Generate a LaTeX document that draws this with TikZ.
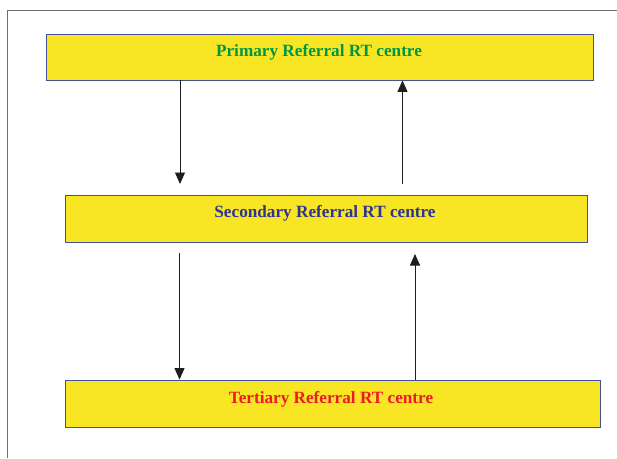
\documentclass[tikz,border=0pt]{standalone}
\usepackage{fontspec}
\setmainfont{Liberation Serif}
\usetikzlibrary{arrows.meta}
\definecolor{boxfill}{RGB}{248,230,36}
\definecolor{boxline}{RGB}{70,78,160}
\definecolor{tgreen}{RGB}{0,150,70}
\definecolor{tblue}{RGB}{46,52,146}
\definecolor{tred}{RGB}{237,28,36}
\definecolor{framegray}{RGB}{110,110,110}
\tikzset{
  refbox/.style={draw=boxline, fill=boxfill, line width=0.9pt, inner sep=0pt, rectangle},
  reftext/.style={font=\bfseries\fontsize{17.2}{19}\selectfont, anchor=base, inner sep=0pt},
  arr/.style={draw={rgb,255:red,30;green,30;blue,30}, line width=0.9pt, -{Triangle[length=11.5pt,width=10pt]}},
  framelinestyle/.style={draw=framegray, line width=1.3pt}
}
\begin{document}
\begin{tikzpicture}[x=1pt,y=-1pt]
\useasboundingbox (0,0) rectangle (617,458);
% frame
\coordinate (fc) at (7.5,10.5);
\coordinate (fr) at (617,10.5);
\coordinate (fb) at (7.5,458);
\draw[framelinestyle] (fb) -- (fc) -- (fr);
% boxes
\node[refbox, minimum width=547pt, minimum height=46pt] (b1) at (319.5,57) {};
\node[refbox, minimum width=522pt, minimum height=47pt] (b2) at (326,218.5) {};
\node[refbox, minimum width=535pt, minimum height=47pt] (b3) at (332.5,403.5) {};
% texts
\node[reftext, text=tgreen] (t1) at (319,56) {Primary Referral RT centre};
\node[reftext, text=tblue] (t2) at (325,217.5) {Secondary Referral RT centre};
\node[reftext, text=tred] (t3) at (331,403) {Tertiary Referral RT centre};
% arrow ends
\coordinate (d1) at (180,184);
\coordinate (u1) at (402.5,184);
\coordinate (d2) at (179.5,253);
\coordinate (u2) at (415,254);
\draw[arr] (b1.south -| d1) -- (d1);
\draw[arr] (u1) -- (b1.south -| u1);
\draw[arr] (d2) -- (b3.north -| d2);
\draw[arr] (b3.north -| u2) -- (u2);
\end{tikzpicture}
\end{document}
